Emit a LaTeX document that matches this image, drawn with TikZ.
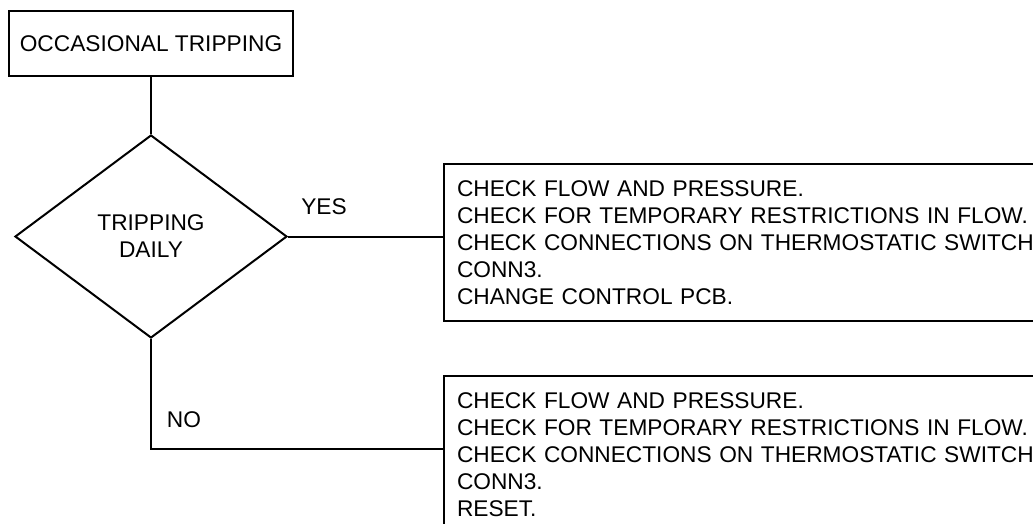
\documentclass[tikz,border=0pt]{standalone}
\usepackage{fontspec}
\setmainfont{Liberation Sans}
\usetikzlibrary{shapes.geometric}
\begin{document}
\begin{tikzpicture}[x=1pt,y=-1pt,line width=2pt,
  txt/.style={font=\fontsize{22.7}{27}\selectfont},
  box/.style={draw,rectangle,inner sep=0pt,txt},
  actbox/.style={draw,rectangle,anchor=north west,minimum height=157pt,text width=590pt,inner xsep=13pt,inner ysep=0pt,align=left,txt},
  decision/.style={draw,diamond,minimum width=272pt,minimum height=203pt,inner sep=0pt,align=center,txt},
  lbl/.style={inner sep=0pt,txt}]
\useasboundingbox (0,0) rectangle (1033,523);
\clip (0,0) rectangle (1033,523);
\node[box,minimum width=284pt,minimum height=65pt] (top) at (151,43.5) {OCCASIONAL TRIPPING};
\node[decision] (d) at (151,236.5) {TRIPPING\\DAILY};
\node[actbox] (b1) at (443,163) {CHECK FLOW AND PRESSURE.\\CHECK FOR TEMPORARY RESTRICTIONS IN FLOW.\\CHECK CONNECTIONS ON THERMOSTATIC SWITCH\\CONN3.\\CHANGE CONTROL PCB.};
\node[actbox] (b2) at (443,375) {CHECK FLOW AND PRESSURE.\\CHECK FOR TEMPORARY RESTRICTIONS IN FLOW.\\CHECK CONNECTIONS ON THERMOSTATIC SWITCH\\CONN3.\\RESET.};
\node[lbl] (yes) at (324,207) {YES};
\node[lbl] (no) at (184,420) {NO};
\draw (top.south) -- (d.north);
\draw (d.east) -- (d.east -| b1.west);
\draw (d.south) |- ([yshift=5.5pt]b2.west);
\end{tikzpicture}
\end{document}
